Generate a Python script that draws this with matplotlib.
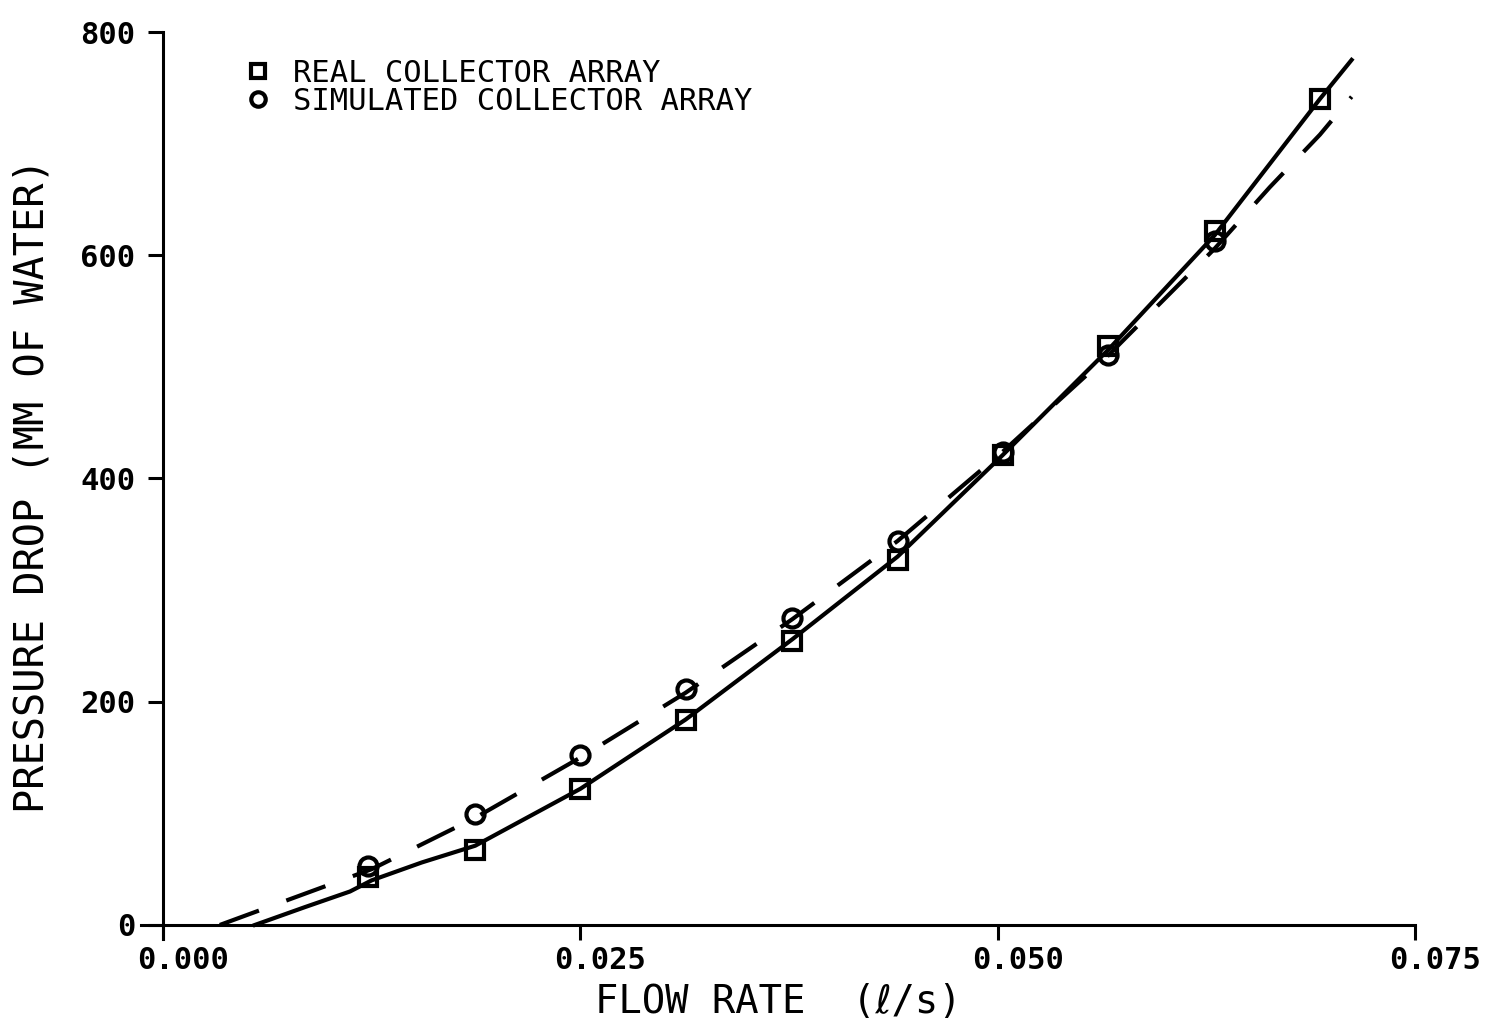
import matplotlib.pyplot as plt
import matplotlib.transforms as mtransforms

# measured points (flow rate in l/s, pressure drop in mm of water)
flow_pts = [0.0123, 0.0187, 0.0250, 0.0313, 0.0377, 0.0440, 0.0503, 0.0566, 0.0630, 0.0693]
real_dp = [43, 67, 122, 184, 254, 327, 421, 519, 622, 740]
sim_flow = [0.0123, 0.0187, 0.0250, 0.0313, 0.0377, 0.0440, 0.0503, 0.0566, 0.0630]
sim_dp = [53, 99, 152, 211, 275, 344, 424, 511, 613]

# fitted curves
real_curve_x = [0.0055, 0.0085, 0.0112, 0.0125, 0.0155, 0.0187, 0.0250, 0.0313,
                0.0377, 0.0440, 0.0503, 0.0566, 0.0630, 0.0693, 0.0712]
real_curve_y = [0, 16, 30, 40, 56, 71, 122, 184, 256, 330, 421, 515, 618, 740, 775]
sim_curve_x = [0.0034, 0.0125, 0.0187, 0.0250, 0.0313, 0.0377, 0.0440, 0.0503, 0.0566,
               0.0630, 0.0663, 0.0693, 0.0712]
sim_curve_y = [0, 50, 96, 150, 208, 274, 344, 424, 510, 606, 661, 708, 742]

xticks = [0.000, 0.025, 0.050, 0.075]
yticks = [0, 200, 400, 600, 800]

plt.rcParams['font.family'] = ['DejaVu Sans Mono', 'DejaVu Sans']

fig = plt.figure(figsize=(14.99, 10.29), dpi=100)
ax = fig.add_axes([0.0943, 0.0870, 0.8497, 0.8819])

ax.plot(real_curve_x, real_curve_y, color='black', lw=3)
ax.plot(sim_curve_x, sim_curve_y, color='black', lw=3, dashes=(10, 7))
ax.plot(flow_pts, real_dp, 's', color='black', ms=13, mfc='none', mew=3,
        label='REAL COLLECTOR ARRAY')
ax.plot(sim_flow, sim_dp, 'o', color='black', ms=13, mfc='none', mew=3,
        label='SIMULATED COLLECTOR ARRAY')

ax.set_xlim(-0.0013, 0.075)
ax.set_ylim(-13, 800)
for s in ['top', 'right']:
    ax.spines[s].set_visible(False)
ax.spines['left'].set_position(('data', 0))
ax.spines['bottom'].set_position(('data', 0))
for s in ['left', 'bottom']:
    ax.spines[s].set_linewidth(2.2)

ax.set_xticks(xticks)
ax.set_xticklabels(['%.3f' % v for v in xticks])
ax.set_yticks(yticks)
ax.tick_params(direction='out', length=11, width=2.2, labelsize=22)
ax.tick_params(axis='y', pad=9)
ax.tick_params(axis='x', pad=4)
for lab in ax.get_xticklabels() + ax.get_yticklabels():
    lab.set_fontweight('bold')
offset = mtransforms.ScaledTranslation(0.2, 0, fig.dpi_scale_trans)
for lab in ax.get_xticklabels():
    lab.set_transform(lab.get_transform() + offset)

ax.set_xlabel('FLOW RATE  (ℓ/s)', fontsize=28, labelpad=6)
ax.set_ylabel('PRESSURE DROP (MM OF WATER)', fontsize=29, labelpad=20)

ax.legend(loc='upper left', bbox_to_anchor=(0.065, 0.997), frameon=False,
          fontsize=22, markerscale=0.8, handlelength=0.6, handletextpad=0.85,
          labelspacing=-0.05, borderpad=0.3)

fig.savefig('out.png', dpi=100)
